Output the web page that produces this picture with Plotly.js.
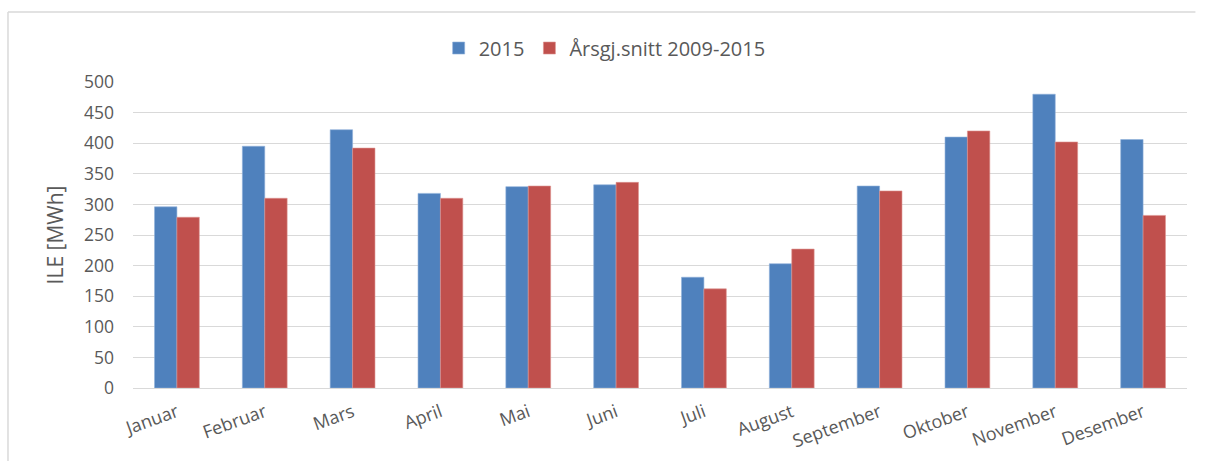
<!DOCTYPE html>
<html>
<head>
<meta charset="utf-8">
<script src="https://cdn.plot.ly/plotly-3.0.1.min.js"></script>
<style>html,body{margin:0;padding:0;background:#fff;overflow:hidden;}#chart{width:1208px;height:461px;}</style>
</head>
<body>
<div id="chart"></div>
<script>
const months = ["Januar","Februar","Mars","April","Mai","Juni","Juli","August","September","Oktober","November","Desember"];
const series2015 = [296, 395, 422, 318, 329, 332, 181, 203, 330, 410, 480, 406];
const seriesAvg = [279, 310, 392, 310, 330, 336, 162, 227, 322, 420, 402, 282];
const name2015 = "2015";
const nameAvg = "Årsgj.snitt 2009-2015";
const yTitle = "ILE [MWh]";

const font = "'Open Sans', 'Liberation Sans', sans-serif";

const data = [
  {type:"bar", x:months, y:series2015, name:name2015, marker:{color:"#4F81BD", line:{color:"#8FB0DA", width:0.6}}},
  {type:"bar", x:months, y:seriesAvg, name:nameAvg, marker:{color:"#C0504D", line:{color:"#DE9391", width:0.6}}}
];

const layout = {
  width:1208, height:461,
  margin:{l:133, r:21, t:82, b:73},
  paper_bgcolor:"#fff", plot_bgcolor:"#fff",
  font:{family:font, color:"#595959", size:17},
  barmode:"group", bargap:0.49, bargroupgap:0,
  showlegend:true,
  legend:{orientation:"h", x:0.29, xanchor:"left", y:1.111, yanchor:"middle",
          font:{size:20, color:"#595959"}, itemwidth:30, tracegroupgap:0},
  xaxis:{type:"category", tickangle:-20, showgrid:false, showline:true, linecolor:"#D9D9D9", linewidth:1,
         ticks:"", tickfont:{size:18, color:"#595959"}, ticklabelstandoff:6, fixedrange:true},
  yaxis:{range:[0,500], dtick:50, tick0:0, showgrid:true, gridcolor:"#D9D9D9", gridwidth:1,
         zeroline:true, zerolinecolor:"#D9D9D9", showline:false, ticks:"",
         tickfont:{size:17.5, color:"#595959"}, ticklabelstandoff:18,
         title:{text:yTitle, font:{size:21, color:"#595959"}, standoff:14}},
  shapes:[
    {type:"line", xref:"paper", yref:"paper", x0:-0.1186, x1:1.008, y0:1.2288, y1:1.2288,
     line:{color:"#D9D9D9", width:1.5}, layer:"below"},
    {type:"line", xref:"paper", yref:"paper", x0:-0.1186, x1:-0.1186, y0:-0.4, y1:1.2288,
     line:{color:"#D9D9D9", width:1.5}, layer:"below"}
  ]
};

Plotly.newPlot("chart", data, layout, {displayModeBar:false, staticPlot:true});
</script>
</body>
</html>
